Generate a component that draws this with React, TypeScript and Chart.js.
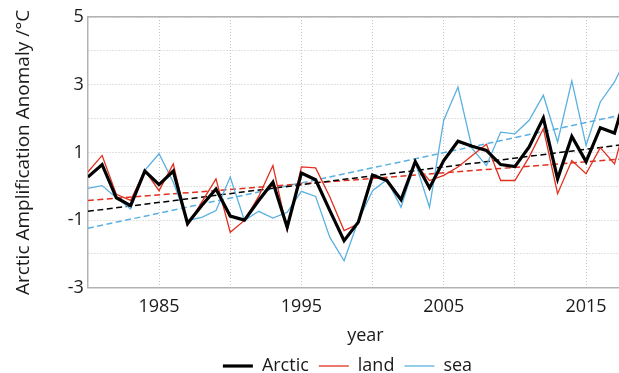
import { useEffect, useRef } from "react";
import { Chart, registerables } from "chart.js";

Chart.register(...registerables);

const years = [
  1980, 1981, 1982, 1983, 1984, 1985, 1986, 1987, 1988, 1989,
  1990, 1991, 1992, 1993, 1994, 1995, 1996, 1997, 1998, 1999,
  2000, 2001, 2002, 2003, 2004, 2005, 2006, 2007, 2008, 2009,
  2010, 2011, 2012, 2013, 2014, 2015, 2016, 2017, 2018,
];

const arctic = [
  0.27, 0.64, -0.34, -0.57, 0.45, 0.05, 0.45, -1.1, -0.57, -0.08,
  -0.88, -1.0, -0.42, 0.12, -1.21, 0.39, 0.19, -0.72, -1.61, -1.06,
  0.33, 0.17, -0.4, 0.73, -0.05, 0.76, 1.33, 1.18, 1.06, 0.64,
  0.58, 1.16, 2.02, 0.22, 1.47, 0.73, 1.73, 1.57, 3.0,
];

const land = [
  0.42, 0.91, -0.24, -0.42, 0.47, -0.13, 0.66, -1.16, -0.47, 0.22,
  -1.36, -1.01, -0.3, 0.61, -1.31, 0.57, 0.54, -0.32, -1.31, -1.11,
  0.27, 0.22, -0.37, 0.66, 0.17, 0.32, 0.57, 0.91, 1.24, 0.17,
  0.17, 0.86, 1.7, -0.22, 0.76, 0.37, 1.14, 0.66, 2.2,
];

const sea = [
  -0.06, 0.02, -0.34, -0.67, 0.47, 0.96, 0.12, -1.01, -0.92, -0.72,
  0.27, -1.01, -0.74, -0.94, -0.77, -0.15, -0.3, -1.51, -2.2, -1.01,
  -0.13, 0.19, -0.62, 0.71, -0.62, 1.95, 2.93, 1.11, 0.61, 1.6,
  1.55, 1.95, 2.69, 1.31, 3.11, 1.21, 2.49, 3.08, 3.95,
];

const trendYears = [1980, 2018];
const arcticTrend = [-0.74, 1.25];
const landTrend = [-0.42, 0.82];
const seaTrend = [-1.24, 2.15];

const xGridValues = [1980, 1985, 1990, 1995, 2000, 2005, 2010, 2015];
const xLabelValues = [1985, 1995, 2005, 2015];
const yLabelValues = [-3, -1, 1, 3, 5];

const ARCTIC_COLOR = "#000000";
const LAND_COLOR = "#e2301f";
const SEA_COLOR = "#5ab0e0";
const GRID_COLOR = "#c4c4c4";
const AXIS_COLOR = "#b3b3b3";
const TEXT_COLOR = "#1a1a1a";
const FONT = "'Open Sans', sans-serif";
const LEGEND_SHIFT = 20;

export default function App() {
  const ref = useRef<HTMLCanvasElement>(null);

  useEffect(() => {
    document.body.style.margin = "0";
    const canvas = ref.current;
    if (!canvas) return;
    const pts = (vals: number[]) => years.map((x, i) => ({ x, y: vals[i] }));
    const tpts = (vals: number[]) => trendYears.map((x, i) => ({ x, y: vals[i] }));

    const legendShift = {
      id: "legendShift",
      afterLayout(chart: any) {
        const l = chart.legend;
        if (l) {
          l.left += LEGEND_SHIFT;
          l.right += LEGEND_SHIFT;
        }
      },
    };

    const chart = new Chart(canvas, {
      type: "line",
      data: {
        datasets: [
          {
            label: "Arctic",
            data: pts(arctic),
            borderColor: ARCTIC_COLOR,
            backgroundColor: ARCTIC_COLOR,
            borderWidth: 3.2,
            pointRadius: 0,
            tension: 0,
          },
          {
            label: "land",
            data: pts(land),
            borderColor: LAND_COLOR,
            backgroundColor: LAND_COLOR,
            borderWidth: 1.3,
            pointRadius: 0,
            tension: 0,
          },
          {
            label: "sea",
            data: pts(sea),
            borderColor: SEA_COLOR,
            backgroundColor: SEA_COLOR,
            borderWidth: 1.3,
            pointRadius: 0,
            tension: 0,
          },
          {
            label: "Arctic trend",
            data: tpts(arcticTrend),
            borderColor: ARCTIC_COLOR,
            borderWidth: 1.5,
            borderDash: [6, 3.5],
            pointRadius: 0,
          },
          {
            label: "land trend",
            data: tpts(landTrend),
            borderColor: LAND_COLOR,
            borderWidth: 1.5,
            borderDash: [6, 3.5],
            pointRadius: 0,
          },
          {
            label: "sea trend",
            data: tpts(seaTrend),
            borderColor: SEA_COLOR,
            borderWidth: 1.5,
            borderDash: [6, 3.5],
            pointRadius: 0,
          },
        ],
      },
      options: {
        animation: false,
        responsive: false,
        devicePixelRatio: 1,
        layout: { padding: { top: 17, right: 17, left: 12, bottom: -12 } },
        font: { family: FONT, size: 18 },
        scales: {
          x: {
            type: "linear",
            min: 1980,
            max: 2019,
            afterBuildTicks: (s: any) => {
              s.ticks = xGridValues.map((v) => ({ value: v }));
            },
            ticks: {
              autoSkip: false,
              maxRotation: 0,
              padding: 8,
              color: TEXT_COLOR,
              font: { family: FONT, size: 18 },
              callback: (v: any) => (xLabelValues.includes(Number(v)) ? String(v) : ""),
            },
            grid: { color: GRID_COLOR, lineWidth: 1, drawTicks: false },
            border: { color: AXIS_COLOR, width: 1.5, dash: [1, 2] },
            title: {
              display: true,
              text: "year",
              color: TEXT_COLOR,
              font: { family: FONT, size: 18 },
              padding: { top: 0, bottom: 0 },
            },
          },
          xTop: {
            type: "linear",
            position: "top",
            min: 1980,
            max: 2019,
            display: true,
            ticks: { display: false },
            grid: { display: false, drawTicks: false },
            border: { display: true, color: AXIS_COLOR, width: 1.5 },
          },
          y: {
            type: "linear",
            min: -3,
            max: 5,
            ticks: {
              stepSize: 1,
              padding: 4,
              color: TEXT_COLOR,
              font: { family: FONT, size: 18 },
              callback: (v: any) => (yLabelValues.includes(Number(v)) ? String(v) : ""),
            },
            grid: { color: GRID_COLOR, lineWidth: 1, drawTicks: false },
            border: { color: AXIS_COLOR, width: 1.5, dash: [1, 2] },
            title: {
              display: true,
              text: "Arctic Amplification Anomaly /°C",
              color: TEXT_COLOR,
              font: { family: FONT, size: 19 },
              padding: { top: 0, bottom: 29 },
            },
          },
        },
        plugins: {
          tooltip: { enabled: false },
          legend: {
            position: "bottom",
            labels: {
              usePointStyle: true,
              pointStyle: "line",
              pointStyleWidth: 30,
              padding: 10,
              color: TEXT_COLOR,
              font: { family: FONT, size: 18 },
              filter: (item: any) => item.datasetIndex < 3,
            },
          },
        },
      },
      plugins: [legendShift],
    } as any);

    return () => chart.destroy();
  }, []);

  return (
    <div
      style={{
        position: "fixed",
        left: 0,
        top: 0,
        width: 619,
        height: 373,
        overflow: "hidden",
        background: "#ffffff",
      }}
    >
      <canvas ref={ref} width={660} height={373} style={{ width: 660, height: 373, display: "block" }} />
    </div>
  );
}
